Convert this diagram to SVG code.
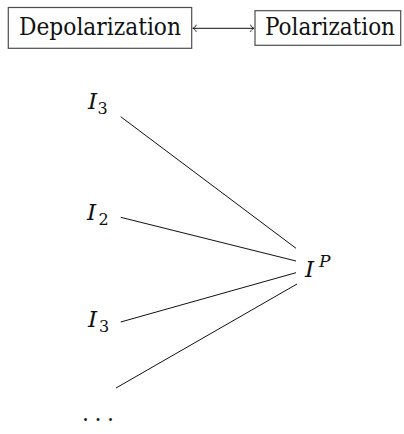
<svg xmlns="http://www.w3.org/2000/svg" width="404" height="434" viewBox="0 0 404 434">
<style>
text{font-family:"DejaVu Serif","Liberation Serif","Noto Serif",serif;fill:#111}
.box{fill:none;stroke:#4d4d4d;stroke-width:1.2}
.lbl{font-family:"DejaVu Serif Condensed","DejaVu Serif",serif;font-stretch:condensed;font-size:24px}
.m{font-style:italic;font-size:23px}
.s{font-size:16px}
.sm{font-style:italic;font-size:17px}
.dt{font-size:22px}
.ln{stroke:#111;stroke-width:1;fill:none}
</style>
<defs>
<marker id="tip" viewBox="-5 -5 7 10" markerWidth="7" markerHeight="10" refX="0" refY="0" markerUnits="userSpaceOnUse" orient="auto-start-reverse" overflow="visible">
<path d="M-3.5,-3.6 C-3,-1.5 -1,-0.3 0,0 C-1,0.3 -3,1.5 -3.5,3.6" fill="none" stroke="#111" stroke-width="0.9"/>
</marker>
</defs>
<g id="connectors">
<line class="ln" x1="192.8" y1="28.3" x2="254" y2="28.3" marker-start="url(#tip)" marker-end="url(#tip)"/>
<line class="ln" x1="120.7" y1="116.7" x2="296" y2="248.3"/>
<line class="ln" x1="120.7" y1="217.3" x2="296" y2="261"/>
<line class="ln" x1="120.7" y1="322" x2="296" y2="272.7"/>
<line class="ln" x1="116" y1="388" x2="297" y2="284"/>
</g>
<g id="depolarization">
<rect class="box" x="8.3" y="7.5" width="183.4" height="40.8"/>
<text class="lbl" x="19" y="35" textLength="162" lengthAdjust="spacingAndGlyphs">Depolarization</text>
</g>
<g id="polarization">
<rect class="box" x="255" y="10.7" width="145.7" height="34.6"/>
<text class="lbl" x="265" y="35" textLength="130" lengthAdjust="spacingAndGlyphs">Polarization</text>
</g>
<g id="i3top">
<text class="m" x="88" y="108.5">I</text>
<text class="s" x="97.5" y="114">3</text>
</g>
<g id="i2">
<text class="m" x="87" y="220">I</text>
<text class="s" x="98.5" y="224.5">2</text>
</g>
<g id="i3bottom">
<text class="m" x="88" y="326.7">I</text>
<text class="s" x="99" y="332.3">3</text>
</g>
<g id="dots">
<text class="dt" x="82" y="421" textLength="32" lengthAdjust="spacing">. . .</text>
</g>
<g id="ip">
<text class="m" x="305" y="276.7">I</text>
<text class="sm" x="319" y="267">P</text>
</g>
</svg>
